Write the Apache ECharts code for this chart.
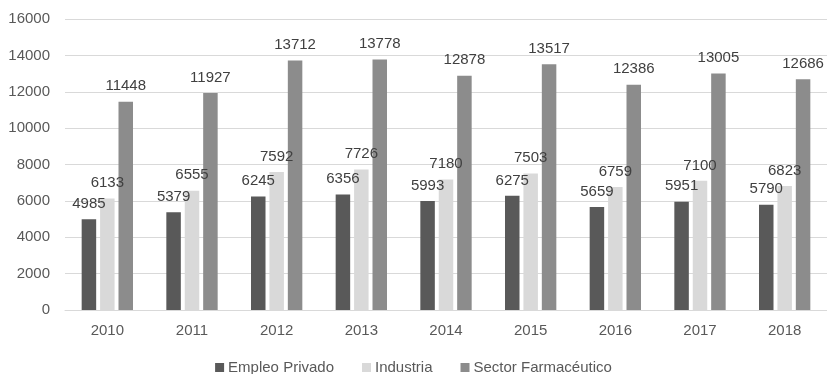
<!DOCTYPE html>
<html><head><meta charset="utf-8">
<script src="https://cdn.jsdelivr.net/npm/echarts@6/dist/echarts.min.js"></script>
<style>html,body{margin:0;padding:0;background:#fff}#c{width:827px;height:374px}</style>
</head><body><div id="c"></div>
<script>
const categories = ['2010','2011','2012','2013','2014','2015','2016','2017','2018'];
const empleoPrivado = [4985,5379,6245,6356,5993,6275,5659,5951,5790];
const industria = [6133,6555,7592,7726,7180,7503,6759,7100,6823];
const sectorFarma = [11448,11927,13712,13778,12878,13517,12386,13005,12686];
const seriesNames = ['Empleo Privado','Industria','Sector Farmacéutico'];
const colors = ['#595959','#d9d9d9','#8c8c8c'];
const font = '"Liberation Sans", Arial, sans-serif';
const chart = echarts.init(document.getElementById('c'));
const mk = (name, data, color) => ({
  name, type: 'bar', data, barWidth: 14.5, barGap: '27%',
  itemStyle: { color },
  label: { show: true, position: 'top', distance: 8, color: '#404040', fontSize: 15, fontFamily: font }
});
chart.setOption({
  animation: false,
  color: colors,
  grid: { left: 65, right: -1, top: 19, bottom: 64, containLabel: false },
  legend: {
    top: 360, left: 'center', padding: 0, itemWidth: 9, itemHeight: 9, itemGap: 28,
    icon: 'rect',
    textStyle: { color: '#595959', fontSize: 15, fontFamily: font, padding: [0,0,0,-1] },
    data: seriesNames
  },
  xAxis: {
    type: 'category', data: categories,
    axisLine: { lineStyle: { color: '#d9d9d9' } },
    axisTick: { show: false },
    axisLabel: { color: '#595959', fontSize: 15, fontFamily: font, margin: 13 }
  },
  yAxis: {
    type: 'value', min: 0, max: 16000, interval: 2000,
    axisLine: { show: false }, axisTick: { show: false },
    splitLine: { lineStyle: { color: '#d9d9d9' } },
    axisLabel: { color: '#595959', fontSize: 15, fontFamily: font, margin: 15, formatter: v => String(v) }
  },
  series: [
    mk(seriesNames[0], empleoPrivado, colors[0]),
    mk(seriesNames[1], industria, colors[1]),
    mk(seriesNames[2], sectorFarma, colors[2])
  ]
});
</script></body></html>
